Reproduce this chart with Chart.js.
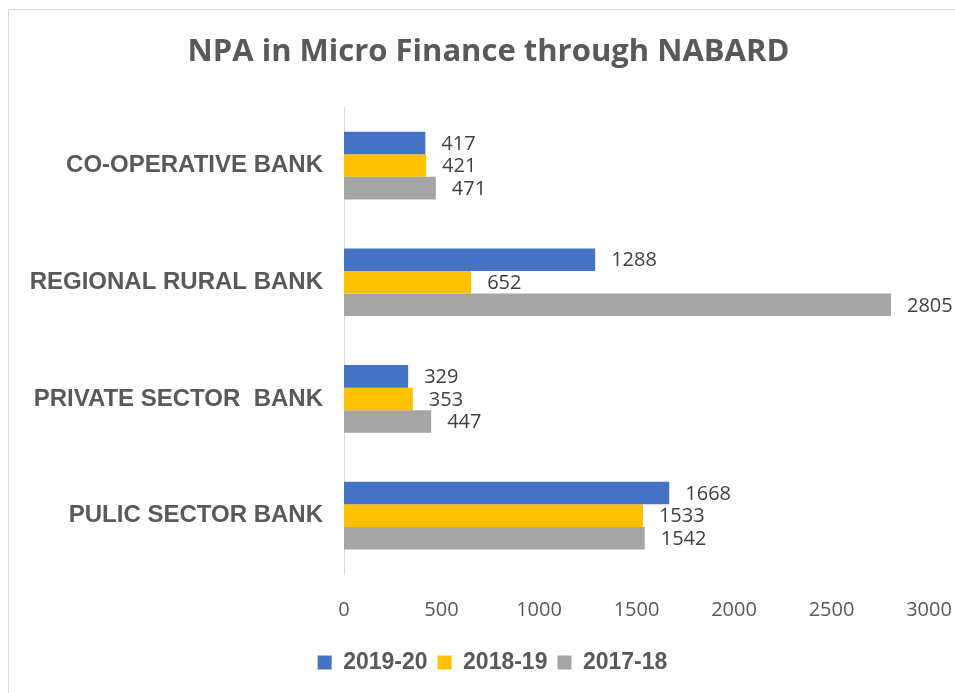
<!DOCTYPE html>
<html>
<head>
<meta charset="utf-8">
<script src="https://cdn.jsdelivr.net/npm/chart.js@4"></script>
<style>
  body { margin: 0; background: #fff; }
  #wrap { position: relative; width: 955px; height: 693px; }
  #frame { position: absolute; left: 8px; top: 9px; width: 960px; height: 700px;
           border-left: 1px solid #d9d9d9; border-top: 1px solid #d9d9d9; }
  canvas { position: absolute; left: 0; top: 0; }
</style>
</head>
<body>
<div id="wrap">
  <div id="frame"></div>
  <canvas id="npaChart" width="955" height="693"></canvas>
</div>
<script>
// data
const banks = ["CO-OPERATIVE BANK", "REGIONAL RURAL BANK", "PRIVATE SECTOR  BANK", "PULIC SECTOR BANK"];
const years = ["2019-20", "2018-19", "2017-18"];
const npa2019 = [417, 1288, 329, 1668];
const npa2018 = [421, 652, 353, 1533];
const npa2017 = [471, 2805, 447, 1542];
const xTicks = [0, 500, 1000, 1500, 2000, 2500, 3000];

const colors = ["#4472C4", "#FFC000", "#A5A5A5"];

// value labels to the right of each bar
const valueLabels = {
  id: "valueLabels",
  afterDatasetsDraw(chart) {
    const c = chart.ctx;
    c.save();
    c.font = "20px 'Open Sans'";
    c.fillStyle = "#404040";
    c.textAlign = "left";
    c.textBaseline = "middle";
    chart.data.datasets.forEach((ds, i) => {
      chart.getDatasetMeta(i).data.forEach((bar, j) => {
        c.fillText(ds.data[j], bar.x + 16, bar.y + 1);
      });
    });
    c.restore();
  }
};

// title and legend sit centred on the whole frame, not on the canvas minus padding
const shiftBoxes = {
  id: "shiftBoxes",
  afterLayout(chart) {
    chart.titleBlock.left += 24;
    chart.titleBlock.right += 24;
    chart.legend.left += 28;
    chart.legend.right += 28;
  }
};

new Chart(document.getElementById("npaChart"), {
  type: "bar",
  data: {
    labels: banks,
    datasets: [
      { label: years[0], data: npa2019, backgroundColor: colors[0] },
      { label: years[1], data: npa2018, backgroundColor: colors[1] },
      { label: years[2], data: npa2017, backgroundColor: colors[2] }
    ]
  },
  options: {
    indexAxis: "y",
    responsive: false,
    animation: false,
    datasets: { bar: { categoryPercentage: 0.58, barPercentage: 1 } },
    layout: { padding: { left: 0, right: 26, bottom: 9 } },
    scales: {
      x: {
        min: 0,
        max: 3000,
        afterBuildTicks: s => { s.ticks = xTicks.map(v => ({ value: v })); },
        afterFit: s => { s.height = 67; s.paddingLeft = 0; s.paddingRight = 0; },
        grid: { display: false },
        border: { display: false },
        ticks: {
          padding: 16,
          color: "#595959",
          font: { family: "'Open Sans'", size: 20 },
          callback: v => String(v)
        }
      },
      y: {
        afterFit: s => { s.width = 344; },
        grid: { display: false },
        border: { color: "#d9d9d9", width: 1 },
        ticks: { padding: 13, color: "#595959", font: { family: "'Liberation Sans'", size: 24, weight: "bold" } }
      }
    },
    plugins: {
      title: {
        display: true,
        text: "NPA in Micro Finance through NABARD",
        color: "#595959",
        font: { family: "'Open Sans'", size: 31, weight: "bold" },
        padding: { top: 34, bottom: 36 }
      },
      legend: {
        position: "bottom",
        labels: {
          boxWidth: 14,
          boxHeight: 14,
          padding: 10,
          color: "#595959",
          font: { family: "'Liberation Sans'", size: 23, weight: "bold" }
        }
      },
      tooltip: { enabled: false }
    }
  },
  plugins: [valueLabels, shiftBoxes]
});
</script>
</body>
</html>
